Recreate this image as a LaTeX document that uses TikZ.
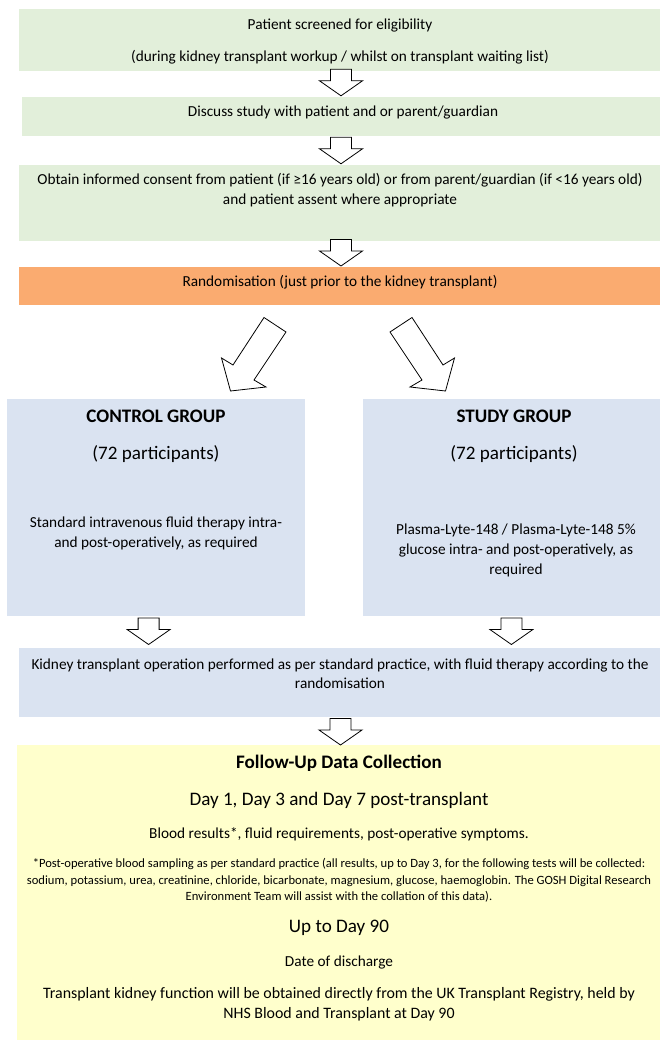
\documentclass[tikz,border=0pt]{standalone}
\usepackage{fontspec}
\setmainfont{Carlito}
\usetikzlibrary{positioning}
\definecolor{cgreen}{RGB}{226,239,218}
\definecolor{corange}{RGB}{250,171,112}
\definecolor{cblue}{RGB}{218,227,241}
\definecolor{cyellow}{RGB}{255,255,204}
\newcommand\fsz[2]{\fontsize{#1}{#2}\selectfont}
\tikzset{
  box/.style={rectangle, inner sep=0pt, outer sep=0pt, draw=none},
  txt/.style={inner sep=0pt, outer sep=0pt, align=center, font=\fsz{15.3}{19.8}},
  bigtxt/.style={txt, font=\fsz{19.1}{24}},
  bigbold/.style={txt, font=\fsz{19.1}{24}\bfseries},
  smalltxt/.style={txt, font=\fsz{12.6}{16.2}},
  blockarrow/.style={draw=black, fill=white, line width=0.8pt, line join=miter},
  darrow/.pic={\draw[blockarrow] (-10.5,0) -- (-10.5,11.5) -- (-21.5,11.5) -- (0,26.5) -- (21.5,11.5) -- (10.5,11.5) -- (10.5,0) -- cycle;}
}
\begin{document}
\begin{tikzpicture}[x=1pt,y=-1pt]
\useasboundingbox[fill=white] (0,0) rectangle (660,1040);
% boxes
\node[box, fill=cgreen, minimum width=641.5pt, minimum height=61.7pt] (b1) at (339.25,40.15) {};
\node[box, fill=cgreen, minimum width=638pt, minimum height=38.7pt] (b2) at (341,116.65) {};
\node[box, fill=cgreen, minimum width=641.5pt, minimum height=76pt] (b3) at (339.25,202.7) {};
\node[box, fill=corange, minimum width=641.5pt, minimum height=38pt] (b4) at (339.25,286.3) {};
\node[box, fill=cblue, minimum width=298.3pt, minimum height=217.3pt] (ctrl) at (155.85,507.35) {};
\node[box, fill=cblue, minimum width=297.5pt, minimum height=217.3pt] (study) at (511.25,507.35) {};
\node[box, fill=cblue, minimum width=641.5pt, minimum height=69pt] (kid) at (339.25,682.5) {};
\node[box, fill=cyellow, minimum width=643pt, minimum height=295pt] (fu) at (338.5,892.5) {};
% texts
\node[txt] (t1a) at (340,25.3) {Patient screened for eligibility};
\node[txt] (t1b) at (340,57.3) {(during kidney transplant workup / whilst on transplant waiting list)};
\node[txt] (t2) at (343,113) {Discuss study with patient and or parent/guardian};
\node[txt] (t3) at (340,190.3) {Obtain informed consent from patient (if ≥16 years old) or from parent/guardian (if <16 years old)\\and patient assent where appropriate};
\node[txt] (t4) at (340,282.7) {Randomisation (just prior to the kidney transplant)};
\node[bigbold] (c1) at (156,416.7) {CONTROL GROUP};
\node[bigtxt] (c2) at (156,454) {(72 participants)};
\node[txt] (c3) at (156,533.5) {Standard intravenous fluid therapy intra-\\and post-operatively, as required};
\node[bigbold] (s1) at (514,416.7) {STUDY GROUP};
\node[bigtxt] (s2) at (514,454) {(72 participants)};
\node[txt] (s3) at (516,550.5) {Plasma-Lyte-148 / Plasma-Lyte-148 5\%\\glucose intra- and post-operatively, as\\required};
\node[txt] (k1) at (340,673.7) {Kidney transplant operation performed as per standard practice, with fluid therapy according to the\\randomisation};
\node[bigbold] (f1) at (339,763.3) {Follow-Up Data Collection};
\node[bigtxt] (f2) at (339,800) {Day 1, Day 3 and Day 7 post-transplant};
\node[txt] (f3) at (339,834) {Blood results*, fluid requirements, post-operative symptoms.};
\node[smalltxt] (f4) at (339,880.3) {*Post-operative blood sampling as per standard practice (all results, up to Day 3, for the following tests will be collected:\\sodium, potassium, urea, creatinine, chloride, bicarbonate, magnesium, glucose, haemoglobin. The GOSH Digital Research\\Environment Team will assist with the collation of this data).};
\node[bigtxt] (f5) at (339,927.7) {Up to Day 90};
\node[txt] (f6) at (339,962.3) {Date of discharge};
\node[txt, font=\fsz{15.9}{20.7}] (f7) at (339,1004.3) {Transplant kidney function will be obtained directly from the UK Transplant Registry, held by\\NHS Blood and Transplant at Day 90};
% block arrows
\pic at (341,69.3) {darrow};
\pic at (341,137.3) {darrow};
\pic at (341,239.5) {darrow};
\pic at (148.6,618) {darrow};
\pic at (511.4,618) {darrow};
\pic at (340.5,718.5) {darrow};
% diagonal arrows
\draw[blockarrow] (264,317.5) -- (286,332) -- (254,380) -- (266,387) -- (230.5,391) -- (221.5,358) -- (233,365) -- cycle;
\draw[blockarrow] (412,317.5) -- (390,332) -- (422,380) -- (410,387) -- (445.5,391) -- (454.5,358) -- (443,365) -- cycle;
\end{tikzpicture}
\end{document}
